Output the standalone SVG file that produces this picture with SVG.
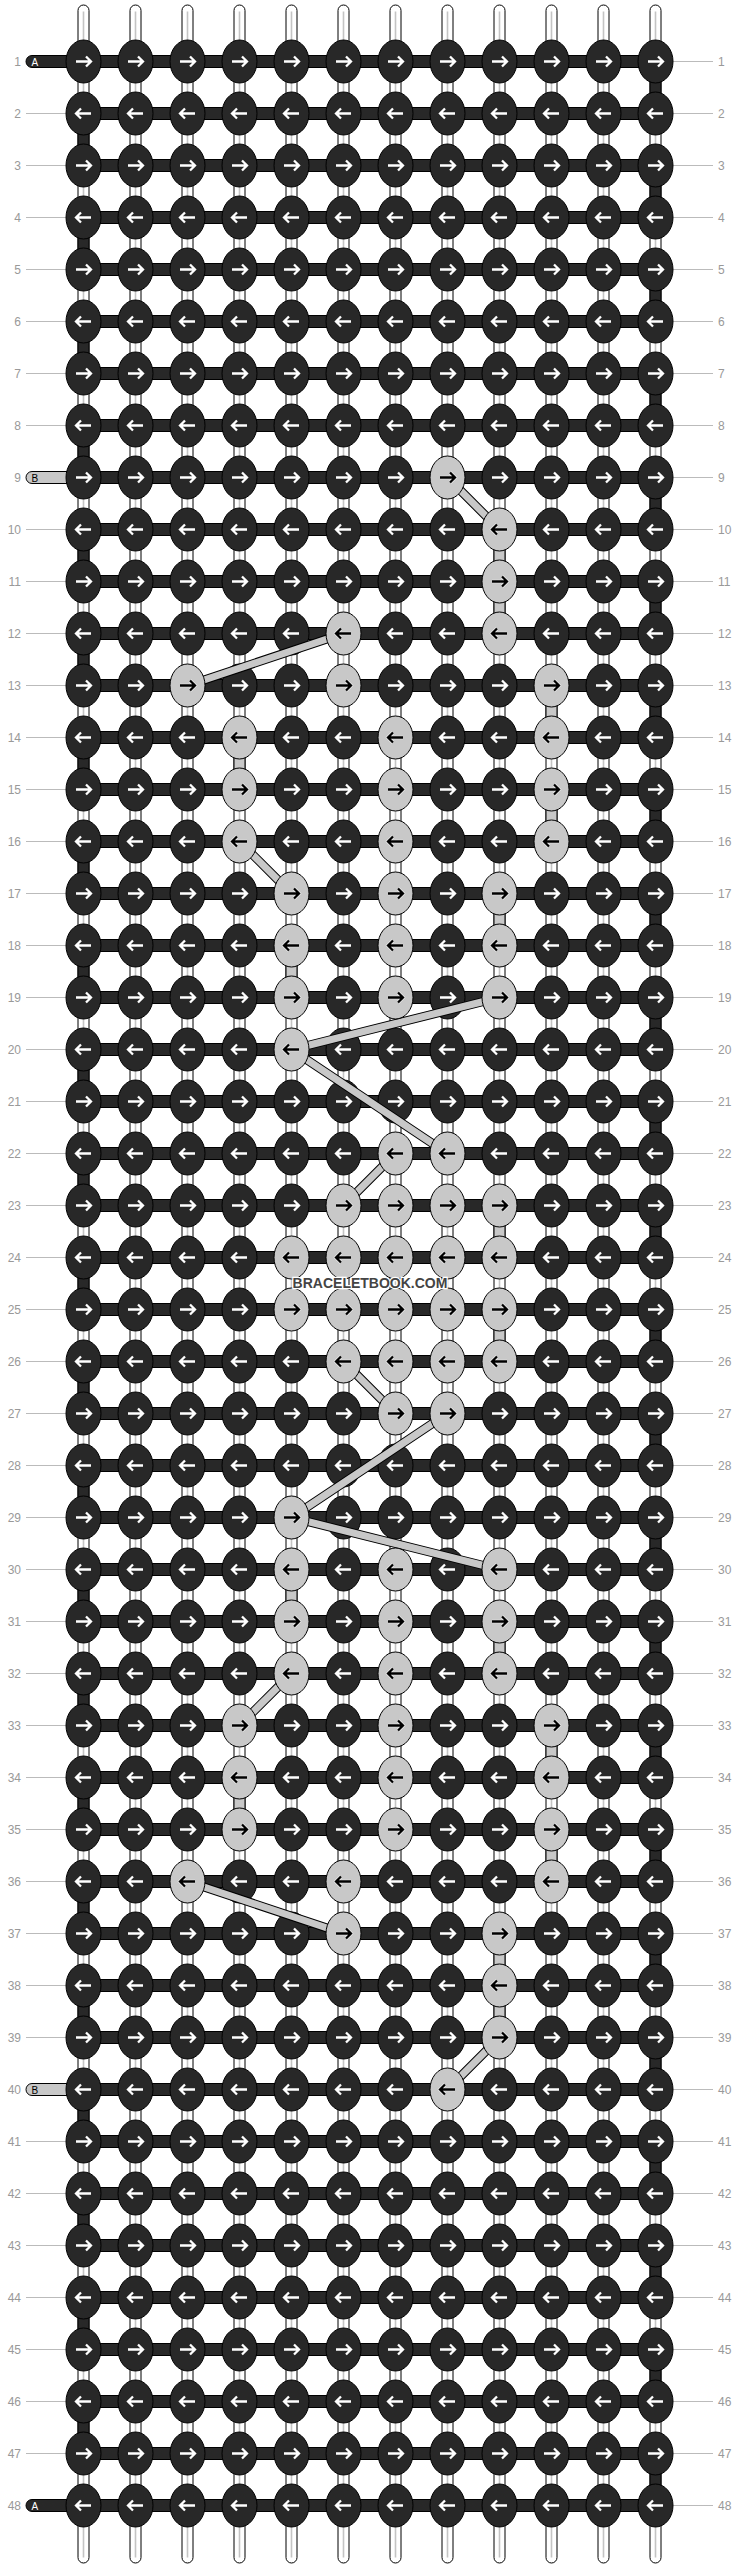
<svg xmlns="http://www.w3.org/2000/svg" xmlns:xlink="http://www.w3.org/1999/xlink" width="740" height="2568" viewBox="0 0 740 2568">
<style>
.tb{fill:#fff;stroke:#000;stroke-width:1}
.tl{stroke:#c4c4c4;stroke-width:1.6;fill:none}
.h{fill:#282828;stroke:#000;stroke-width:1}
.g{fill:#c8c8c8;stroke:#000;stroke-width:1}
.dk{stroke:#000;stroke-width:9;fill:none}
.dg{stroke:#c8c8c8;stroke-width:7;fill:none}
.ln{stroke:#bbb;stroke-width:1;fill:none}
.nl{font-family:"Liberation Sans",Arial,sans-serif;font-size:12px;fill:#999;text-anchor:end}
.nr{font-family:"Liberation Sans",Arial,sans-serif;font-size:12px;fill:#999}
.lab{font-family:"Liberation Sans",Arial,sans-serif;font-size:10px}
.wm{font-family:"Liberation Sans",Arial,sans-serif;font-size:14px;font-weight:bold;fill:#444;stroke:#fff;stroke-width:2.5;paint-order:stroke;text-anchor:middle}
.de{fill:#282828;stroke:#000;stroke-width:1}
.le{fill:#c8c8c8;stroke:#000;stroke-width:1}
.aw{stroke:#fff;stroke-width:2.3;fill:none}
.ah{stroke:#fff;stroke-width:3.6;fill:none;opacity:.7}
.ab{stroke:#000;stroke-width:2.3;fill:none}
</style>
<defs>
<g id="dR"><ellipse class="de" rx="17.5" ry="21.5"/><path class="aw" d="M-7.5 0H6.5M2.5-5 7.5 0 2.5 5"/></g>
<g id="dL"><ellipse class="de" rx="17.5" ry="21.5"/><path class="aw" d="M7.5 0H-6.5M-2.5-5-7.5 0-2.5 5"/></g>
<g id="lR"><ellipse class="le" rx="17.5" ry="21.5"/><path class="ah" d="M-7.5 0H6.5M2.5-5 7.5 0 2.5 5"/><path class="ab" d="M-7.5 0H6.5M2.5-5 7.5 0 2.5 5"/></g>
<g id="lL"><ellipse class="le" rx="17.5" ry="21.5"/><path class="ah" d="M7.5 0H-6.5M-2.5-5-7.5 0-2.5 5"/><path class="ab" d="M7.5 0H-6.5M-2.5-5-7.5 0-2.5 5"/></g>
</defs>
<rect width="740" height="2568" fill="#fff"/>
<g transform="translate(83.5,61.5)">
<g id="threads">
<g id="tubes">
<rect class="tb" x="-5.5" y="-56.5" width="11" height="2558" rx="5.5"/>
<rect class="tb" x="46.5" y="-56.5" width="11" height="2558" rx="5.5"/>
<rect class="tb" x="98.5" y="-56.5" width="11" height="2558" rx="5.5"/>
<rect class="tb" x="150.5" y="-56.5" width="11" height="2558" rx="5.5"/>
<rect class="tb" x="202.5" y="-56.5" width="11" height="2558" rx="5.5"/>
<rect class="tb" x="254.5" y="-56.5" width="11" height="2558" rx="5.5"/>
<rect class="tb" x="306.5" y="-56.5" width="11" height="2558" rx="5.5"/>
<rect class="tb" x="358.5" y="-56.5" width="11" height="2558" rx="5.5"/>
<rect class="tb" x="410.5" y="-56.5" width="11" height="2558" rx="5.5"/>
<rect class="tb" x="462.5" y="-56.5" width="11" height="2558" rx="5.5"/>
<rect class="tb" x="514.5" y="-56.5" width="11" height="2558" rx="5.5"/>
<rect class="tb" x="566.5" y="-56.5" width="11" height="2558" rx="5.5"/>
<path class="tl" d="M0-50V2496M52-50V2496M104-50V2496M156-50V2496M208-50V2496M260-50V2496M312-50V2496M364-50V2496M416-50V2496M468-50V2496M520-50V2496M572-50V2496"/>
</g>
<g id="bands">
<rect class="h" x="0" y="-6" width="572" height="12"/>
<rect class="h" x="0" y="46" width="572" height="12"/>
<rect class="h" x="0" y="98" width="572" height="12"/>
<rect class="h" x="0" y="150" width="572" height="12"/>
<rect class="h" x="0" y="202" width="572" height="12"/>
<rect class="h" x="0" y="254" width="572" height="12"/>
<rect class="h" x="0" y="306" width="572" height="12"/>
<rect class="h" x="0" y="358" width="572" height="12"/>
<rect class="h" x="0" y="410" width="572" height="12"/>
<rect class="h" x="0" y="462" width="572" height="12"/>
<rect class="h" x="0" y="514" width="572" height="12"/>
<rect class="h" x="0" y="566" width="572" height="12"/>
<rect class="h" x="0" y="618" width="572" height="12"/>
<rect class="h" x="0" y="670" width="572" height="12"/>
<rect class="h" x="0" y="722" width="572" height="12"/>
<rect class="h" x="0" y="774" width="572" height="12"/>
<rect class="h" x="0" y="826" width="572" height="12"/>
<rect class="h" x="0" y="878" width="572" height="12"/>
<rect class="h" x="0" y="930" width="572" height="12"/>
<rect class="h" x="0" y="982" width="572" height="12"/>
<rect class="h" x="0" y="1034" width="572" height="12"/>
<rect class="h" x="0" y="1086" width="572" height="12"/>
<rect class="h" x="0" y="1138" width="572" height="12"/>
<rect class="h" x="0" y="1190" width="572" height="12"/>
<rect class="h" x="0" y="1242" width="572" height="12"/>
<rect class="h" x="0" y="1294" width="572" height="12"/>
<rect class="h" x="0" y="1346" width="572" height="12"/>
<rect class="h" x="0" y="1398" width="572" height="12"/>
<rect class="h" x="0" y="1450" width="572" height="12"/>
<rect class="h" x="0" y="1502" width="572" height="12"/>
<rect class="h" x="0" y="1554" width="572" height="12"/>
<rect class="h" x="0" y="1606" width="572" height="12"/>
<rect class="h" x="0" y="1658" width="572" height="12"/>
<rect class="h" x="0" y="1710" width="572" height="12"/>
<rect class="h" x="0" y="1762" width="572" height="12"/>
<rect class="h" x="0" y="1814" width="572" height="12"/>
<rect class="h" x="0" y="1866" width="572" height="12"/>
<rect class="h" x="0" y="1918" width="572" height="12"/>
<rect class="h" x="0" y="1970" width="572" height="12"/>
<rect class="h" x="0" y="2022" width="572" height="12"/>
<rect class="h" x="0" y="2074" width="572" height="12"/>
<rect class="h" x="0" y="2126" width="572" height="12"/>
<rect class="h" x="0" y="2178" width="572" height="12"/>
<rect class="h" x="0" y="2230" width="572" height="12"/>
<rect class="h" x="0" y="2282" width="572" height="12"/>
<rect class="h" x="0" y="2334" width="572" height="12"/>
<rect class="h" x="0" y="2386" width="572" height="12"/>
<rect class="h" x="0" y="2438" width="572" height="12"/>
</g>
<g id="turns">
<rect class="h" x="566.5" y="15" width="11" height="22"/>
<rect class="h" x="566.5" y="119" width="11" height="22"/>
<rect class="h" x="566.5" y="223" width="11" height="22"/>
<rect class="h" x="566.5" y="327" width="11" height="22"/>
<rect class="h" x="566.5" y="431" width="11" height="22"/>
<rect class="h" x="566.5" y="535" width="11" height="22"/>
<rect class="h" x="566.5" y="639" width="11" height="22"/>
<rect class="h" x="566.5" y="743" width="11" height="22"/>
<rect class="h" x="566.5" y="847" width="11" height="22"/>
<rect class="h" x="566.5" y="951" width="11" height="22"/>
<rect class="h" x="566.5" y="1055" width="11" height="22"/>
<rect class="h" x="566.5" y="1159" width="11" height="22"/>
<rect class="h" x="566.5" y="1263" width="11" height="22"/>
<rect class="h" x="566.5" y="1367" width="11" height="22"/>
<rect class="h" x="566.5" y="1471" width="11" height="22"/>
<rect class="h" x="566.5" y="1575" width="11" height="22"/>
<rect class="h" x="566.5" y="1679" width="11" height="22"/>
<rect class="h" x="566.5" y="1783" width="11" height="22"/>
<rect class="h" x="566.5" y="1887" width="11" height="22"/>
<rect class="h" x="566.5" y="1991" width="11" height="22"/>
<rect class="h" x="566.5" y="2095" width="11" height="22"/>
<rect class="h" x="566.5" y="2199" width="11" height="22"/>
<rect class="h" x="566.5" y="2303" width="11" height="22"/>
<rect class="h" x="566.5" y="2407" width="11" height="22"/>
<rect class="h" x="-5.5" y="67" width="11" height="22"/>
<rect class="h" x="-5.5" y="171" width="11" height="22"/>
<rect class="h" x="-5.5" y="275" width="11" height="22"/>
<rect class="h" x="-5.5" y="379" width="11" height="22"/>
<rect class="h" x="-5.5" y="483" width="11" height="22"/>
<rect class="h" x="-5.5" y="587" width="11" height="22"/>
<rect class="h" x="-5.5" y="691" width="11" height="22"/>
<rect class="h" x="-5.5" y="795" width="11" height="22"/>
<rect class="h" x="-5.5" y="899" width="11" height="22"/>
<rect class="h" x="-5.5" y="1003" width="11" height="22"/>
<rect class="h" x="-5.5" y="1107" width="11" height="22"/>
<rect class="h" x="-5.5" y="1211" width="11" height="22"/>
<rect class="h" x="-5.5" y="1315" width="11" height="22"/>
<rect class="h" x="-5.5" y="1419" width="11" height="22"/>
<rect class="h" x="-5.5" y="1523" width="11" height="22"/>
<rect class="h" x="-5.5" y="1627" width="11" height="22"/>
<rect class="h" x="-5.5" y="1731" width="11" height="22"/>
<rect class="h" x="-5.5" y="1835" width="11" height="22"/>
<rect class="h" x="-5.5" y="1939" width="11" height="22"/>
<rect class="h" x="-5.5" y="2043" width="11" height="22"/>
<rect class="h" x="-5.5" y="2147" width="11" height="22"/>
<rect class="h" x="-5.5" y="2251" width="11" height="22"/>
<rect class="h" x="-5.5" y="2355" width="11" height="22"/>
</g>
<g id="bverticals">
<rect class="g" x="410.5" y="483" width="11" height="22"/>
<rect class="g" x="410.5" y="535" width="11" height="22"/>
<rect class="g" x="462.5" y="639" width="11" height="22"/>
<rect class="g" x="150.5" y="691" width="11" height="22"/>
<rect class="g" x="462.5" y="743" width="11" height="22"/>
<rect class="g" x="410.5" y="847" width="11" height="22"/>
<rect class="g" x="202.5" y="899" width="11" height="22"/>
<rect class="g" x="410.5" y="1159" width="11" height="22"/>
<rect class="g" x="410.5" y="1263" width="11" height="22"/>
<rect class="g" x="202.5" y="1523" width="11" height="22"/>
<rect class="g" x="410.5" y="1575" width="11" height="22"/>
<rect class="g" x="462.5" y="1679" width="11" height="22"/>
<rect class="g" x="150.5" y="1731" width="11" height="22"/>
<rect class="g" x="462.5" y="1783" width="11" height="22"/>
<rect class="g" x="410.5" y="1887" width="11" height="22"/>
<rect class="g" x="410.5" y="1939" width="11" height="22"/>
</g>
<g id="leads">
<rect class="h" x="-57.5" y="-6" width="50" height="12" rx="6"/>
<rect class="g" x="-57.5" y="410" width="50" height="12" rx="6"/>
<rect class="g" x="-57.5" y="2022" width="50" height="12" rx="6"/>
<rect class="h" x="-57.5" y="2438" width="50" height="12" rx="6"/>
<text class="lab" x="-52" y="4" fill="#fff">A</text>
<text class="lab" x="-52" y="420" fill="#000">B</text>
<text class="lab" x="-52" y="2032" fill="#000">B</text>
<text class="lab" x="-52" y="2448" fill="#fff">A</text>
</g>
</g>
<g transform="translate(0,0)"><path class="ln" d="M589.5 0h40"/><text class="nl" x="-62.5" y="4.3">1</text><text class="nr" x="634.5" y="4.3">1</text><g id="n1-1"><use href="#dR"/></g><g id="n1-2"><use href="#dR" x="52"/></g><g id="n1-3"><use href="#dR" x="104"/></g><g id="n1-4"><use href="#dR" x="156"/></g><g id="n1-5"><use href="#dR" x="208"/></g><g id="n1-6"><use href="#dR" x="260"/></g><g id="n1-7"><use href="#dR" x="312"/></g><g id="n1-8"><use href="#dR" x="364"/></g><g id="n1-9"><use href="#dR" x="416"/></g><g id="n1-10"><use href="#dR" x="468"/></g><g id="n1-11"><use href="#dR" x="520"/></g><g id="n1-12"><use href="#dR" x="572"/></g></g>
<g transform="translate(0,52)"><path class="ln" d="M-57.5 0h40M589.5 0h40"/><text class="nl" x="-62.5" y="4.3">2</text><text class="nr" x="634.5" y="4.3">2</text><g id="n2-1"><use href="#dL"/></g><g id="n2-2"><use href="#dL" x="52"/></g><g id="n2-3"><use href="#dL" x="104"/></g><g id="n2-4"><use href="#dL" x="156"/></g><g id="n2-5"><use href="#dL" x="208"/></g><g id="n2-6"><use href="#dL" x="260"/></g><g id="n2-7"><use href="#dL" x="312"/></g><g id="n2-8"><use href="#dL" x="364"/></g><g id="n2-9"><use href="#dL" x="416"/></g><g id="n2-10"><use href="#dL" x="468"/></g><g id="n2-11"><use href="#dL" x="520"/></g><g id="n2-12"><use href="#dL" x="572"/></g></g>
<g transform="translate(0,104)"><path class="ln" d="M-57.5 0h40M589.5 0h40"/><text class="nl" x="-62.5" y="4.3">3</text><text class="nr" x="634.5" y="4.3">3</text><g id="n3-1"><use href="#dR"/></g><g id="n3-2"><use href="#dR" x="52"/></g><g id="n3-3"><use href="#dR" x="104"/></g><g id="n3-4"><use href="#dR" x="156"/></g><g id="n3-5"><use href="#dR" x="208"/></g><g id="n3-6"><use href="#dR" x="260"/></g><g id="n3-7"><use href="#dR" x="312"/></g><g id="n3-8"><use href="#dR" x="364"/></g><g id="n3-9"><use href="#dR" x="416"/></g><g id="n3-10"><use href="#dR" x="468"/></g><g id="n3-11"><use href="#dR" x="520"/></g><g id="n3-12"><use href="#dR" x="572"/></g></g>
<g transform="translate(0,156)"><path class="ln" d="M-57.5 0h40M589.5 0h40"/><text class="nl" x="-62.5" y="4.3">4</text><text class="nr" x="634.5" y="4.3">4</text><g id="n4-1"><use href="#dL"/></g><g id="n4-2"><use href="#dL" x="52"/></g><g id="n4-3"><use href="#dL" x="104"/></g><g id="n4-4"><use href="#dL" x="156"/></g><g id="n4-5"><use href="#dL" x="208"/></g><g id="n4-6"><use href="#dL" x="260"/></g><g id="n4-7"><use href="#dL" x="312"/></g><g id="n4-8"><use href="#dL" x="364"/></g><g id="n4-9"><use href="#dL" x="416"/></g><g id="n4-10"><use href="#dL" x="468"/></g><g id="n4-11"><use href="#dL" x="520"/></g><g id="n4-12"><use href="#dL" x="572"/></g></g>
<g transform="translate(0,208)"><path class="ln" d="M-57.5 0h40M589.5 0h40"/><text class="nl" x="-62.5" y="4.3">5</text><text class="nr" x="634.5" y="4.3">5</text><g id="n5-1"><use href="#dR"/></g><g id="n5-2"><use href="#dR" x="52"/></g><g id="n5-3"><use href="#dR" x="104"/></g><g id="n5-4"><use href="#dR" x="156"/></g><g id="n5-5"><use href="#dR" x="208"/></g><g id="n5-6"><use href="#dR" x="260"/></g><g id="n5-7"><use href="#dR" x="312"/></g><g id="n5-8"><use href="#dR" x="364"/></g><g id="n5-9"><use href="#dR" x="416"/></g><g id="n5-10"><use href="#dR" x="468"/></g><g id="n5-11"><use href="#dR" x="520"/></g><g id="n5-12"><use href="#dR" x="572"/></g></g>
<g transform="translate(0,260)"><path class="ln" d="M-57.5 0h40M589.5 0h40"/><text class="nl" x="-62.5" y="4.3">6</text><text class="nr" x="634.5" y="4.3">6</text><g id="n6-1"><use href="#dL"/></g><g id="n6-2"><use href="#dL" x="52"/></g><g id="n6-3"><use href="#dL" x="104"/></g><g id="n6-4"><use href="#dL" x="156"/></g><g id="n6-5"><use href="#dL" x="208"/></g><g id="n6-6"><use href="#dL" x="260"/></g><g id="n6-7"><use href="#dL" x="312"/></g><g id="n6-8"><use href="#dL" x="364"/></g><g id="n6-9"><use href="#dL" x="416"/></g><g id="n6-10"><use href="#dL" x="468"/></g><g id="n6-11"><use href="#dL" x="520"/></g><g id="n6-12"><use href="#dL" x="572"/></g></g>
<g transform="translate(0,312)"><path class="ln" d="M-57.5 0h40M589.5 0h40"/><text class="nl" x="-62.5" y="4.3">7</text><text class="nr" x="634.5" y="4.3">7</text><g id="n7-1"><use href="#dR"/></g><g id="n7-2"><use href="#dR" x="52"/></g><g id="n7-3"><use href="#dR" x="104"/></g><g id="n7-4"><use href="#dR" x="156"/></g><g id="n7-5"><use href="#dR" x="208"/></g><g id="n7-6"><use href="#dR" x="260"/></g><g id="n7-7"><use href="#dR" x="312"/></g><g id="n7-8"><use href="#dR" x="364"/></g><g id="n7-9"><use href="#dR" x="416"/></g><g id="n7-10"><use href="#dR" x="468"/></g><g id="n7-11"><use href="#dR" x="520"/></g><g id="n7-12"><use href="#dR" x="572"/></g></g>
<g transform="translate(0,364)"><path class="ln" d="M-57.5 0h40M589.5 0h40"/><text class="nl" x="-62.5" y="4.3">8</text><text class="nr" x="634.5" y="4.3">8</text><g id="n8-1"><use href="#dL"/></g><g id="n8-2"><use href="#dL" x="52"/></g><g id="n8-3"><use href="#dL" x="104"/></g><g id="n8-4"><use href="#dL" x="156"/></g><g id="n8-5"><use href="#dL" x="208"/></g><g id="n8-6"><use href="#dL" x="260"/></g><g id="n8-7"><use href="#dL" x="312"/></g><g id="n8-8"><use href="#dL" x="364"/></g><g id="n8-9"><use href="#dL" x="416"/></g><g id="n8-10"><use href="#dL" x="468"/></g><g id="n8-11"><use href="#dL" x="520"/></g><g id="n8-12"><use href="#dL" x="572"/></g></g>
<g transform="translate(0,416)"><path class="ln" d="M589.5 0h40"/><text class="nl" x="-62.5" y="4.3">9</text><text class="nr" x="634.5" y="4.3">9</text><g id="n9-1"><use href="#dR"/></g><g id="n9-2"><use href="#dR" x="52"/></g><g id="n9-3"><use href="#dR" x="104"/></g><g id="n9-4"><use href="#dR" x="156"/></g><g id="n9-5"><use href="#dR" x="208"/></g><g id="n9-6"><use href="#dR" x="260"/></g><g id="n9-7"><use href="#dR" x="312"/></g><g id="n9-9"><use href="#dR" x="416"/></g><g id="n9-10"><use href="#dR" x="468"/></g><g id="n9-11"><use href="#dR" x="520"/></g><g id="n9-12"><use href="#dR" x="572"/></g></g>
<g transform="translate(0,468)"><path class="ln" d="M-57.5 0h40M589.5 0h40"/><text class="nl" x="-62.5" y="4.3">10</text><text class="nr" x="634.5" y="4.3">10</text><g id="n10-1"><use href="#dL"/></g><g id="n10-2"><use href="#dL" x="52"/></g><g id="n10-3"><use href="#dL" x="104"/></g><g id="n10-4"><use href="#dL" x="156"/></g><g id="n10-5"><use href="#dL" x="208"/></g><g id="n10-6"><use href="#dL" x="260"/></g><g id="n10-7"><use href="#dL" x="312"/></g><g id="n10-8"><use href="#dL" x="364"/></g><g id="n10-10"><use href="#dL" x="468"/></g><g id="n10-11"><use href="#dL" x="520"/></g><g id="n10-12"><use href="#dL" x="572"/></g></g>
<g transform="translate(0,520)"><path class="ln" d="M-57.5 0h40M589.5 0h40"/><text class="nl" x="-62.5" y="4.3">11</text><text class="nr" x="634.5" y="4.3">11</text><g id="n11-1"><use href="#dR"/></g><g id="n11-2"><use href="#dR" x="52"/></g><g id="n11-3"><use href="#dR" x="104"/></g><g id="n11-4"><use href="#dR" x="156"/></g><g id="n11-5"><use href="#dR" x="208"/></g><g id="n11-6"><use href="#dR" x="260"/></g><g id="n11-7"><use href="#dR" x="312"/></g><g id="n11-8"><use href="#dR" x="364"/></g><g id="n11-10"><use href="#dR" x="468"/></g><g id="n11-11"><use href="#dR" x="520"/></g><g id="n11-12"><use href="#dR" x="572"/></g></g>
<g transform="translate(0,572)"><path class="ln" d="M-57.5 0h40M589.5 0h40"/><text class="nl" x="-62.5" y="4.3">12</text><text class="nr" x="634.5" y="4.3">12</text><g id="n12-1"><use href="#dL"/></g><g id="n12-2"><use href="#dL" x="52"/></g><g id="n12-3"><use href="#dL" x="104"/></g><g id="n12-4"><use href="#dL" x="156"/></g><g id="n12-5"><use href="#dL" x="208"/></g><g id="n12-7"><use href="#dL" x="312"/></g><g id="n12-8"><use href="#dL" x="364"/></g><g id="n12-10"><use href="#dL" x="468"/></g><g id="n12-11"><use href="#dL" x="520"/></g><g id="n12-12"><use href="#dL" x="572"/></g></g>
<g transform="translate(0,624)"><path class="ln" d="M-57.5 0h40M589.5 0h40"/><text class="nl" x="-62.5" y="4.3">13</text><text class="nr" x="634.5" y="4.3">13</text><g id="n13-1"><use href="#dR"/></g><g id="n13-2"><use href="#dR" x="52"/></g><g id="n13-4"><use href="#dR" x="156"/></g><g id="n13-5"><use href="#dR" x="208"/></g><g id="n13-7"><use href="#dR" x="312"/></g><g id="n13-8"><use href="#dR" x="364"/></g><g id="n13-9"><use href="#dR" x="416"/></g><g id="n13-11"><use href="#dR" x="520"/></g><g id="n13-12"><use href="#dR" x="572"/></g></g>
<g transform="translate(0,676)"><path class="ln" d="M-57.5 0h40M589.5 0h40"/><text class="nl" x="-62.5" y="4.3">14</text><text class="nr" x="634.5" y="4.3">14</text><g id="n14-1"><use href="#dL"/></g><g id="n14-2"><use href="#dL" x="52"/></g><g id="n14-3"><use href="#dL" x="104"/></g><g id="n14-5"><use href="#dL" x="208"/></g><g id="n14-6"><use href="#dL" x="260"/></g><g id="n14-8"><use href="#dL" x="364"/></g><g id="n14-9"><use href="#dL" x="416"/></g><g id="n14-11"><use href="#dL" x="520"/></g><g id="n14-12"><use href="#dL" x="572"/></g></g>
<g transform="translate(0,728)"><path class="ln" d="M-57.5 0h40M589.5 0h40"/><text class="nl" x="-62.5" y="4.3">15</text><text class="nr" x="634.5" y="4.3">15</text><g id="n15-1"><use href="#dR"/></g><g id="n15-2"><use href="#dR" x="52"/></g><g id="n15-3"><use href="#dR" x="104"/></g><g id="n15-5"><use href="#dR" x="208"/></g><g id="n15-6"><use href="#dR" x="260"/></g><g id="n15-8"><use href="#dR" x="364"/></g><g id="n15-9"><use href="#dR" x="416"/></g><g id="n15-11"><use href="#dR" x="520"/></g><g id="n15-12"><use href="#dR" x="572"/></g></g>
<g transform="translate(0,780)"><path class="ln" d="M-57.5 0h40M589.5 0h40"/><text class="nl" x="-62.5" y="4.3">16</text><text class="nr" x="634.5" y="4.3">16</text><g id="n16-1"><use href="#dL"/></g><g id="n16-2"><use href="#dL" x="52"/></g><g id="n16-3"><use href="#dL" x="104"/></g><g id="n16-5"><use href="#dL" x="208"/></g><g id="n16-6"><use href="#dL" x="260"/></g><g id="n16-8"><use href="#dL" x="364"/></g><g id="n16-9"><use href="#dL" x="416"/></g><g id="n16-11"><use href="#dL" x="520"/></g><g id="n16-12"><use href="#dL" x="572"/></g></g>
<g transform="translate(0,832)"><path class="ln" d="M-57.5 0h40M589.5 0h40"/><text class="nl" x="-62.5" y="4.3">17</text><text class="nr" x="634.5" y="4.3">17</text><g id="n17-1"><use href="#dR"/></g><g id="n17-2"><use href="#dR" x="52"/></g><g id="n17-3"><use href="#dR" x="104"/></g><g id="n17-4"><use href="#dR" x="156"/></g><g id="n17-6"><use href="#dR" x="260"/></g><g id="n17-8"><use href="#dR" x="364"/></g><g id="n17-10"><use href="#dR" x="468"/></g><g id="n17-11"><use href="#dR" x="520"/></g><g id="n17-12"><use href="#dR" x="572"/></g></g>
<g transform="translate(0,884)"><path class="ln" d="M-57.5 0h40M589.5 0h40"/><text class="nl" x="-62.5" y="4.3">18</text><text class="nr" x="634.5" y="4.3">18</text><g id="n18-1"><use href="#dL"/></g><g id="n18-2"><use href="#dL" x="52"/></g><g id="n18-3"><use href="#dL" x="104"/></g><g id="n18-4"><use href="#dL" x="156"/></g><g id="n18-6"><use href="#dL" x="260"/></g><g id="n18-8"><use href="#dL" x="364"/></g><g id="n18-10"><use href="#dL" x="468"/></g><g id="n18-11"><use href="#dL" x="520"/></g><g id="n18-12"><use href="#dL" x="572"/></g></g>
<g transform="translate(0,936)"><path class="ln" d="M-57.5 0h40M589.5 0h40"/><text class="nl" x="-62.5" y="4.3">19</text><text class="nr" x="634.5" y="4.3">19</text><g id="n19-1"><use href="#dR"/></g><g id="n19-2"><use href="#dR" x="52"/></g><g id="n19-3"><use href="#dR" x="104"/></g><g id="n19-4"><use href="#dR" x="156"/></g><g id="n19-6"><use href="#dR" x="260"/></g><g id="n19-8"><use href="#dR" x="364"/></g><g id="n19-10"><use href="#dR" x="468"/></g><g id="n19-11"><use href="#dR" x="520"/></g><g id="n19-12"><use href="#dR" x="572"/></g></g>
<g transform="translate(0,988)"><path class="ln" d="M-57.5 0h40M589.5 0h40"/><text class="nl" x="-62.5" y="4.3">20</text><text class="nr" x="634.5" y="4.3">20</text><g id="n20-1"><use href="#dL"/></g><g id="n20-2"><use href="#dL" x="52"/></g><g id="n20-3"><use href="#dL" x="104"/></g><g id="n20-4"><use href="#dL" x="156"/></g><g id="n20-6"><use href="#dL" x="260"/></g><g id="n20-7"><use href="#dL" x="312"/></g><g id="n20-8"><use href="#dL" x="364"/></g><g id="n20-9"><use href="#dL" x="416"/></g><g id="n20-10"><use href="#dL" x="468"/></g><g id="n20-11"><use href="#dL" x="520"/></g><g id="n20-12"><use href="#dL" x="572"/></g></g>
<g transform="translate(0,1040)"><path class="ln" d="M-57.5 0h40M589.5 0h40"/><text class="nl" x="-62.5" y="4.3">21</text><text class="nr" x="634.5" y="4.3">21</text><g id="n21-1"><use href="#dR"/></g><g id="n21-2"><use href="#dR" x="52"/></g><g id="n21-3"><use href="#dR" x="104"/></g><g id="n21-4"><use href="#dR" x="156"/></g><g id="n21-5"><use href="#dR" x="208"/></g><g id="n21-6"><use href="#dR" x="260"/></g><g id="n21-7"><use href="#dR" x="312"/></g><g id="n21-8"><use href="#dR" x="364"/></g><g id="n21-9"><use href="#dR" x="416"/></g><g id="n21-10"><use href="#dR" x="468"/></g><g id="n21-11"><use href="#dR" x="520"/></g><g id="n21-12"><use href="#dR" x="572"/></g></g>
<g transform="translate(0,1092)"><path class="ln" d="M-57.5 0h40M589.5 0h40"/><text class="nl" x="-62.5" y="4.3">22</text><text class="nr" x="634.5" y="4.3">22</text><g id="n22-1"><use href="#dL"/></g><g id="n22-2"><use href="#dL" x="52"/></g><g id="n22-3"><use href="#dL" x="104"/></g><g id="n22-4"><use href="#dL" x="156"/></g><g id="n22-5"><use href="#dL" x="208"/></g><g id="n22-6"><use href="#dL" x="260"/></g><g id="n22-9"><use href="#dL" x="416"/></g><g id="n22-10"><use href="#dL" x="468"/></g><g id="n22-11"><use href="#dL" x="520"/></g><g id="n22-12"><use href="#dL" x="572"/></g></g>
<g transform="translate(0,1144)"><path class="ln" d="M-57.5 0h40M589.5 0h40"/><text class="nl" x="-62.5" y="4.3">23</text><text class="nr" x="634.5" y="4.3">23</text><g id="n23-1"><use href="#dR"/></g><g id="n23-2"><use href="#dR" x="52"/></g><g id="n23-3"><use href="#dR" x="104"/></g><g id="n23-4"><use href="#dR" x="156"/></g><g id="n23-5"><use href="#dR" x="208"/></g><g id="n23-10"><use href="#dR" x="468"/></g><g id="n23-11"><use href="#dR" x="520"/></g><g id="n23-12"><use href="#dR" x="572"/></g></g>
<g transform="translate(0,1196)"><path class="ln" d="M-57.5 0h40M589.5 0h40"/><text class="nl" x="-62.5" y="4.3">24</text><text class="nr" x="634.5" y="4.3">24</text><g id="n24-1"><use href="#dL"/></g><g id="n24-2"><use href="#dL" x="52"/></g><g id="n24-3"><use href="#dL" x="104"/></g><g id="n24-4"><use href="#dL" x="156"/></g><g id="n24-10"><use href="#dL" x="468"/></g><g id="n24-11"><use href="#dL" x="520"/></g><g id="n24-12"><use href="#dL" x="572"/></g></g>
<g transform="translate(0,1248)"><path class="ln" d="M-57.5 0h40M589.5 0h40"/><text class="nl" x="-62.5" y="4.3">25</text><text class="nr" x="634.5" y="4.3">25</text><g id="n25-1"><use href="#dR"/></g><g id="n25-2"><use href="#dR" x="52"/></g><g id="n25-3"><use href="#dR" x="104"/></g><g id="n25-4"><use href="#dR" x="156"/></g><g id="n25-10"><use href="#dR" x="468"/></g><g id="n25-11"><use href="#dR" x="520"/></g><g id="n25-12"><use href="#dR" x="572"/></g></g>
<g transform="translate(0,1300)"><path class="ln" d="M-57.5 0h40M589.5 0h40"/><text class="nl" x="-62.5" y="4.3">26</text><text class="nr" x="634.5" y="4.3">26</text><g id="n26-1"><use href="#dL"/></g><g id="n26-2"><use href="#dL" x="52"/></g><g id="n26-3"><use href="#dL" x="104"/></g><g id="n26-4"><use href="#dL" x="156"/></g><g id="n26-5"><use href="#dL" x="208"/></g><g id="n26-10"><use href="#dL" x="468"/></g><g id="n26-11"><use href="#dL" x="520"/></g><g id="n26-12"><use href="#dL" x="572"/></g></g>
<g transform="translate(0,1352)"><path class="ln" d="M-57.5 0h40M589.5 0h40"/><text class="nl" x="-62.5" y="4.3">27</text><text class="nr" x="634.5" y="4.3">27</text><g id="n27-1"><use href="#dR"/></g><g id="n27-2"><use href="#dR" x="52"/></g><g id="n27-3"><use href="#dR" x="104"/></g><g id="n27-4"><use href="#dR" x="156"/></g><g id="n27-5"><use href="#dR" x="208"/></g><g id="n27-6"><use href="#dR" x="260"/></g><g id="n27-9"><use href="#dR" x="416"/></g><g id="n27-10"><use href="#dR" x="468"/></g><g id="n27-11"><use href="#dR" x="520"/></g><g id="n27-12"><use href="#dR" x="572"/></g></g>
<g transform="translate(0,1404)"><path class="ln" d="M-57.5 0h40M589.5 0h40"/><text class="nl" x="-62.5" y="4.3">28</text><text class="nr" x="634.5" y="4.3">28</text><g id="n28-1"><use href="#dL"/></g><g id="n28-2"><use href="#dL" x="52"/></g><g id="n28-3"><use href="#dL" x="104"/></g><g id="n28-4"><use href="#dL" x="156"/></g><g id="n28-5"><use href="#dL" x="208"/></g><g id="n28-6"><use href="#dL" x="260"/></g><g id="n28-7"><use href="#dL" x="312"/></g><g id="n28-8"><use href="#dL" x="364"/></g><g id="n28-9"><use href="#dL" x="416"/></g><g id="n28-10"><use href="#dL" x="468"/></g><g id="n28-11"><use href="#dL" x="520"/></g><g id="n28-12"><use href="#dL" x="572"/></g></g>
<g transform="translate(0,1456)"><path class="ln" d="M-57.5 0h40M589.5 0h40"/><text class="nl" x="-62.5" y="4.3">29</text><text class="nr" x="634.5" y="4.3">29</text><g id="n29-1"><use href="#dR"/></g><g id="n29-2"><use href="#dR" x="52"/></g><g id="n29-3"><use href="#dR" x="104"/></g><g id="n29-4"><use href="#dR" x="156"/></g><g id="n29-6"><use href="#dR" x="260"/></g><g id="n29-7"><use href="#dR" x="312"/></g><g id="n29-8"><use href="#dR" x="364"/></g><g id="n29-9"><use href="#dR" x="416"/></g><g id="n29-10"><use href="#dR" x="468"/></g><g id="n29-11"><use href="#dR" x="520"/></g><g id="n29-12"><use href="#dR" x="572"/></g></g>
<g transform="translate(0,1508)"><path class="ln" d="M-57.5 0h40M589.5 0h40"/><text class="nl" x="-62.5" y="4.3">30</text><text class="nr" x="634.5" y="4.3">30</text><g id="n30-1"><use href="#dL"/></g><g id="n30-2"><use href="#dL" x="52"/></g><g id="n30-3"><use href="#dL" x="104"/></g><g id="n30-4"><use href="#dL" x="156"/></g><g id="n30-6"><use href="#dL" x="260"/></g><g id="n30-8"><use href="#dL" x="364"/></g><g id="n30-10"><use href="#dL" x="468"/></g><g id="n30-11"><use href="#dL" x="520"/></g><g id="n30-12"><use href="#dL" x="572"/></g></g>
<g transform="translate(0,1560)"><path class="ln" d="M-57.5 0h40M589.5 0h40"/><text class="nl" x="-62.5" y="4.3">31</text><text class="nr" x="634.5" y="4.3">31</text><g id="n31-1"><use href="#dR"/></g><g id="n31-2"><use href="#dR" x="52"/></g><g id="n31-3"><use href="#dR" x="104"/></g><g id="n31-4"><use href="#dR" x="156"/></g><g id="n31-6"><use href="#dR" x="260"/></g><g id="n31-8"><use href="#dR" x="364"/></g><g id="n31-10"><use href="#dR" x="468"/></g><g id="n31-11"><use href="#dR" x="520"/></g><g id="n31-12"><use href="#dR" x="572"/></g></g>
<g transform="translate(0,1612)"><path class="ln" d="M-57.5 0h40M589.5 0h40"/><text class="nl" x="-62.5" y="4.3">32</text><text class="nr" x="634.5" y="4.3">32</text><g id="n32-1"><use href="#dL"/></g><g id="n32-2"><use href="#dL" x="52"/></g><g id="n32-3"><use href="#dL" x="104"/></g><g id="n32-4"><use href="#dL" x="156"/></g><g id="n32-6"><use href="#dL" x="260"/></g><g id="n32-8"><use href="#dL" x="364"/></g><g id="n32-10"><use href="#dL" x="468"/></g><g id="n32-11"><use href="#dL" x="520"/></g><g id="n32-12"><use href="#dL" x="572"/></g></g>
<g transform="translate(0,1664)"><path class="ln" d="M-57.5 0h40M589.5 0h40"/><text class="nl" x="-62.5" y="4.3">33</text><text class="nr" x="634.5" y="4.3">33</text><g id="n33-1"><use href="#dR"/></g><g id="n33-2"><use href="#dR" x="52"/></g><g id="n33-3"><use href="#dR" x="104"/></g><g id="n33-5"><use href="#dR" x="208"/></g><g id="n33-6"><use href="#dR" x="260"/></g><g id="n33-8"><use href="#dR" x="364"/></g><g id="n33-9"><use href="#dR" x="416"/></g><g id="n33-11"><use href="#dR" x="520"/></g><g id="n33-12"><use href="#dR" x="572"/></g></g>
<g transform="translate(0,1716)"><path class="ln" d="M-57.5 0h40M589.5 0h40"/><text class="nl" x="-62.5" y="4.3">34</text><text class="nr" x="634.5" y="4.3">34</text><g id="n34-1"><use href="#dL"/></g><g id="n34-2"><use href="#dL" x="52"/></g><g id="n34-3"><use href="#dL" x="104"/></g><g id="n34-5"><use href="#dL" x="208"/></g><g id="n34-6"><use href="#dL" x="260"/></g><g id="n34-8"><use href="#dL" x="364"/></g><g id="n34-9"><use href="#dL" x="416"/></g><g id="n34-11"><use href="#dL" x="520"/></g><g id="n34-12"><use href="#dL" x="572"/></g></g>
<g transform="translate(0,1768)"><path class="ln" d="M-57.5 0h40M589.5 0h40"/><text class="nl" x="-62.5" y="4.3">35</text><text class="nr" x="634.5" y="4.3">35</text><g id="n35-1"><use href="#dR"/></g><g id="n35-2"><use href="#dR" x="52"/></g><g id="n35-3"><use href="#dR" x="104"/></g><g id="n35-5"><use href="#dR" x="208"/></g><g id="n35-6"><use href="#dR" x="260"/></g><g id="n35-8"><use href="#dR" x="364"/></g><g id="n35-9"><use href="#dR" x="416"/></g><g id="n35-11"><use href="#dR" x="520"/></g><g id="n35-12"><use href="#dR" x="572"/></g></g>
<g transform="translate(0,1820)"><path class="ln" d="M-57.5 0h40M589.5 0h40"/><text class="nl" x="-62.5" y="4.3">36</text><text class="nr" x="634.5" y="4.3">36</text><g id="n36-1"><use href="#dL"/></g><g id="n36-2"><use href="#dL" x="52"/></g><g id="n36-4"><use href="#dL" x="156"/></g><g id="n36-5"><use href="#dL" x="208"/></g><g id="n36-7"><use href="#dL" x="312"/></g><g id="n36-8"><use href="#dL" x="364"/></g><g id="n36-9"><use href="#dL" x="416"/></g><g id="n36-11"><use href="#dL" x="520"/></g><g id="n36-12"><use href="#dL" x="572"/></g></g>
<g transform="translate(0,1872)"><path class="ln" d="M-57.5 0h40M589.5 0h40"/><text class="nl" x="-62.5" y="4.3">37</text><text class="nr" x="634.5" y="4.3">37</text><g id="n37-1"><use href="#dR"/></g><g id="n37-2"><use href="#dR" x="52"/></g><g id="n37-3"><use href="#dR" x="104"/></g><g id="n37-4"><use href="#dR" x="156"/></g><g id="n37-5"><use href="#dR" x="208"/></g><g id="n37-7"><use href="#dR" x="312"/></g><g id="n37-8"><use href="#dR" x="364"/></g><g id="n37-10"><use href="#dR" x="468"/></g><g id="n37-11"><use href="#dR" x="520"/></g><g id="n37-12"><use href="#dR" x="572"/></g></g>
<g transform="translate(0,1924)"><path class="ln" d="M-57.5 0h40M589.5 0h40"/><text class="nl" x="-62.5" y="4.3">38</text><text class="nr" x="634.5" y="4.3">38</text><g id="n38-1"><use href="#dL"/></g><g id="n38-2"><use href="#dL" x="52"/></g><g id="n38-3"><use href="#dL" x="104"/></g><g id="n38-4"><use href="#dL" x="156"/></g><g id="n38-5"><use href="#dL" x="208"/></g><g id="n38-6"><use href="#dL" x="260"/></g><g id="n38-7"><use href="#dL" x="312"/></g><g id="n38-8"><use href="#dL" x="364"/></g><g id="n38-10"><use href="#dL" x="468"/></g><g id="n38-11"><use href="#dL" x="520"/></g><g id="n38-12"><use href="#dL" x="572"/></g></g>
<g transform="translate(0,1976)"><path class="ln" d="M-57.5 0h40M589.5 0h40"/><text class="nl" x="-62.5" y="4.3">39</text><text class="nr" x="634.5" y="4.3">39</text><g id="n39-1"><use href="#dR"/></g><g id="n39-2"><use href="#dR" x="52"/></g><g id="n39-3"><use href="#dR" x="104"/></g><g id="n39-4"><use href="#dR" x="156"/></g><g id="n39-5"><use href="#dR" x="208"/></g><g id="n39-6"><use href="#dR" x="260"/></g><g id="n39-7"><use href="#dR" x="312"/></g><g id="n39-8"><use href="#dR" x="364"/></g><g id="n39-10"><use href="#dR" x="468"/></g><g id="n39-11"><use href="#dR" x="520"/></g><g id="n39-12"><use href="#dR" x="572"/></g></g>
<g transform="translate(0,2028)"><path class="ln" d="M589.5 0h40"/><text class="nl" x="-62.5" y="4.3">40</text><text class="nr" x="634.5" y="4.3">40</text><g id="n40-1"><use href="#dL"/></g><g id="n40-2"><use href="#dL" x="52"/></g><g id="n40-3"><use href="#dL" x="104"/></g><g id="n40-4"><use href="#dL" x="156"/></g><g id="n40-5"><use href="#dL" x="208"/></g><g id="n40-6"><use href="#dL" x="260"/></g><g id="n40-7"><use href="#dL" x="312"/></g><g id="n40-9"><use href="#dL" x="416"/></g><g id="n40-10"><use href="#dL" x="468"/></g><g id="n40-11"><use href="#dL" x="520"/></g><g id="n40-12"><use href="#dL" x="572"/></g></g>
<g transform="translate(0,2080)"><path class="ln" d="M-57.5 0h40M589.5 0h40"/><text class="nl" x="-62.5" y="4.3">41</text><text class="nr" x="634.5" y="4.3">41</text><g id="n41-1"><use href="#dR"/></g><g id="n41-2"><use href="#dR" x="52"/></g><g id="n41-3"><use href="#dR" x="104"/></g><g id="n41-4"><use href="#dR" x="156"/></g><g id="n41-5"><use href="#dR" x="208"/></g><g id="n41-6"><use href="#dR" x="260"/></g><g id="n41-7"><use href="#dR" x="312"/></g><g id="n41-8"><use href="#dR" x="364"/></g><g id="n41-9"><use href="#dR" x="416"/></g><g id="n41-10"><use href="#dR" x="468"/></g><g id="n41-11"><use href="#dR" x="520"/></g><g id="n41-12"><use href="#dR" x="572"/></g></g>
<g transform="translate(0,2132)"><path class="ln" d="M-57.5 0h40M589.5 0h40"/><text class="nl" x="-62.5" y="4.3">42</text><text class="nr" x="634.5" y="4.3">42</text><g id="n42-1"><use href="#dL"/></g><g id="n42-2"><use href="#dL" x="52"/></g><g id="n42-3"><use href="#dL" x="104"/></g><g id="n42-4"><use href="#dL" x="156"/></g><g id="n42-5"><use href="#dL" x="208"/></g><g id="n42-6"><use href="#dL" x="260"/></g><g id="n42-7"><use href="#dL" x="312"/></g><g id="n42-8"><use href="#dL" x="364"/></g><g id="n42-9"><use href="#dL" x="416"/></g><g id="n42-10"><use href="#dL" x="468"/></g><g id="n42-11"><use href="#dL" x="520"/></g><g id="n42-12"><use href="#dL" x="572"/></g></g>
<g transform="translate(0,2184)"><path class="ln" d="M-57.5 0h40M589.5 0h40"/><text class="nl" x="-62.5" y="4.3">43</text><text class="nr" x="634.5" y="4.3">43</text><g id="n43-1"><use href="#dR"/></g><g id="n43-2"><use href="#dR" x="52"/></g><g id="n43-3"><use href="#dR" x="104"/></g><g id="n43-4"><use href="#dR" x="156"/></g><g id="n43-5"><use href="#dR" x="208"/></g><g id="n43-6"><use href="#dR" x="260"/></g><g id="n43-7"><use href="#dR" x="312"/></g><g id="n43-8"><use href="#dR" x="364"/></g><g id="n43-9"><use href="#dR" x="416"/></g><g id="n43-10"><use href="#dR" x="468"/></g><g id="n43-11"><use href="#dR" x="520"/></g><g id="n43-12"><use href="#dR" x="572"/></g></g>
<g transform="translate(0,2236)"><path class="ln" d="M-57.5 0h40M589.5 0h40"/><text class="nl" x="-62.5" y="4.3">44</text><text class="nr" x="634.5" y="4.3">44</text><g id="n44-1"><use href="#dL"/></g><g id="n44-2"><use href="#dL" x="52"/></g><g id="n44-3"><use href="#dL" x="104"/></g><g id="n44-4"><use href="#dL" x="156"/></g><g id="n44-5"><use href="#dL" x="208"/></g><g id="n44-6"><use href="#dL" x="260"/></g><g id="n44-7"><use href="#dL" x="312"/></g><g id="n44-8"><use href="#dL" x="364"/></g><g id="n44-9"><use href="#dL" x="416"/></g><g id="n44-10"><use href="#dL" x="468"/></g><g id="n44-11"><use href="#dL" x="520"/></g><g id="n44-12"><use href="#dL" x="572"/></g></g>
<g transform="translate(0,2288)"><path class="ln" d="M-57.5 0h40M589.5 0h40"/><text class="nl" x="-62.5" y="4.3">45</text><text class="nr" x="634.5" y="4.3">45</text><g id="n45-1"><use href="#dR"/></g><g id="n45-2"><use href="#dR" x="52"/></g><g id="n45-3"><use href="#dR" x="104"/></g><g id="n45-4"><use href="#dR" x="156"/></g><g id="n45-5"><use href="#dR" x="208"/></g><g id="n45-6"><use href="#dR" x="260"/></g><g id="n45-7"><use href="#dR" x="312"/></g><g id="n45-8"><use href="#dR" x="364"/></g><g id="n45-9"><use href="#dR" x="416"/></g><g id="n45-10"><use href="#dR" x="468"/></g><g id="n45-11"><use href="#dR" x="520"/></g><g id="n45-12"><use href="#dR" x="572"/></g></g>
<g transform="translate(0,2340)"><path class="ln" d="M-57.5 0h40M589.5 0h40"/><text class="nl" x="-62.5" y="4.3">46</text><text class="nr" x="634.5" y="4.3">46</text><g id="n46-1"><use href="#dL"/></g><g id="n46-2"><use href="#dL" x="52"/></g><g id="n46-3"><use href="#dL" x="104"/></g><g id="n46-4"><use href="#dL" x="156"/></g><g id="n46-5"><use href="#dL" x="208"/></g><g id="n46-6"><use href="#dL" x="260"/></g><g id="n46-7"><use href="#dL" x="312"/></g><g id="n46-8"><use href="#dL" x="364"/></g><g id="n46-9"><use href="#dL" x="416"/></g><g id="n46-10"><use href="#dL" x="468"/></g><g id="n46-11"><use href="#dL" x="520"/></g><g id="n46-12"><use href="#dL" x="572"/></g></g>
<g transform="translate(0,2392)"><path class="ln" d="M-57.5 0h40M589.5 0h40"/><text class="nl" x="-62.5" y="4.3">47</text><text class="nr" x="634.5" y="4.3">47</text><g id="n47-1"><use href="#dR"/></g><g id="n47-2"><use href="#dR" x="52"/></g><g id="n47-3"><use href="#dR" x="104"/></g><g id="n47-4"><use href="#dR" x="156"/></g><g id="n47-5"><use href="#dR" x="208"/></g><g id="n47-6"><use href="#dR" x="260"/></g><g id="n47-7"><use href="#dR" x="312"/></g><g id="n47-8"><use href="#dR" x="364"/></g><g id="n47-9"><use href="#dR" x="416"/></g><g id="n47-10"><use href="#dR" x="468"/></g><g id="n47-11"><use href="#dR" x="520"/></g><g id="n47-12"><use href="#dR" x="572"/></g></g>
<g transform="translate(0,2444)"><path class="ln" d="M589.5 0h40"/><text class="nl" x="-62.5" y="4.3">48</text><text class="nr" x="634.5" y="4.3">48</text><g id="n48-1"><use href="#dL"/></g><g id="n48-2"><use href="#dL" x="52"/></g><g id="n48-3"><use href="#dL" x="104"/></g><g id="n48-4"><use href="#dL" x="156"/></g><g id="n48-5"><use href="#dL" x="208"/></g><g id="n48-6"><use href="#dL" x="260"/></g><g id="n48-7"><use href="#dL" x="312"/></g><g id="n48-8"><use href="#dL" x="364"/></g><g id="n48-9"><use href="#dL" x="416"/></g><g id="n48-10"><use href="#dL" x="468"/></g><g id="n48-11"><use href="#dL" x="520"/></g><g id="n48-12"><use href="#dL" x="572"/></g></g>
<g id="connectors">
<path class="dk" d="M364 416L416 468M260 572L104 624M156 780L208 832M416 936L208 988M208 988L364 1092M312 1092L260 1144M260 1300L312 1352M364 1352L208 1456M208 1456L416 1508M208 1612L156 1664M104 1820L260 1872M416 1976L364 2028"/>
<path class="dg" d="M364 416L416 468M260 572L104 624M156 780L208 832M416 936L208 988M208 988L364 1092M312 1092L260 1144M260 1300L312 1352M364 1352L208 1456M208 1456L416 1508M208 1612L156 1664M104 1820L260 1872M416 1976L364 2028"/>
</g>
<g id="lightnodes">
<g id="n9-8"><use href="#lR" x="364" y="416"/></g>
<g id="n10-9"><use href="#lL" x="416" y="468"/></g>
<g id="n11-9"><use href="#lR" x="416" y="520"/></g>
<g id="n12-6"><use href="#lL" x="260" y="572"/></g>
<g id="n12-9"><use href="#lL" x="416" y="572"/></g>
<g id="n13-3"><use href="#lR" x="104" y="624"/></g>
<g id="n13-6"><use href="#lR" x="260" y="624"/></g>
<g id="n13-10"><use href="#lR" x="468" y="624"/></g>
<g id="n14-4"><use href="#lL" x="156" y="676"/></g>
<g id="n14-7"><use href="#lL" x="312" y="676"/></g>
<g id="n14-10"><use href="#lL" x="468" y="676"/></g>
<g id="n15-4"><use href="#lR" x="156" y="728"/></g>
<g id="n15-7"><use href="#lR" x="312" y="728"/></g>
<g id="n15-10"><use href="#lR" x="468" y="728"/></g>
<g id="n16-4"><use href="#lL" x="156" y="780"/></g>
<g id="n16-7"><use href="#lL" x="312" y="780"/></g>
<g id="n16-10"><use href="#lL" x="468" y="780"/></g>
<g id="n17-5"><use href="#lR" x="208" y="832"/></g>
<g id="n17-7"><use href="#lR" x="312" y="832"/></g>
<g id="n17-9"><use href="#lR" x="416" y="832"/></g>
<g id="n18-5"><use href="#lL" x="208" y="884"/></g>
<g id="n18-7"><use href="#lL" x="312" y="884"/></g>
<g id="n18-9"><use href="#lL" x="416" y="884"/></g>
<g id="n19-5"><use href="#lR" x="208" y="936"/></g>
<g id="n19-7"><use href="#lR" x="312" y="936"/></g>
<g id="n19-9"><use href="#lR" x="416" y="936"/></g>
<g id="n20-5"><use href="#lL" x="208" y="988"/></g>
<g id="n22-7"><use href="#lL" x="312" y="1092"/></g>
<g id="n22-8"><use href="#lL" x="364" y="1092"/></g>
<g id="n23-6"><use href="#lR" x="260" y="1144"/></g>
<g id="n23-7"><use href="#lR" x="312" y="1144"/></g>
<g id="n23-8"><use href="#lR" x="364" y="1144"/></g>
<g id="n23-9"><use href="#lR" x="416" y="1144"/></g>
<g id="n24-5"><use href="#lL" x="208" y="1196"/></g>
<g id="n24-6"><use href="#lL" x="260" y="1196"/></g>
<g id="n24-7"><use href="#lL" x="312" y="1196"/></g>
<g id="n24-8"><use href="#lL" x="364" y="1196"/></g>
<g id="n24-9"><use href="#lL" x="416" y="1196"/></g>
<g id="n25-5"><use href="#lR" x="208" y="1248"/></g>
<g id="n25-6"><use href="#lR" x="260" y="1248"/></g>
<g id="n25-7"><use href="#lR" x="312" y="1248"/></g>
<g id="n25-8"><use href="#lR" x="364" y="1248"/></g>
<g id="n25-9"><use href="#lR" x="416" y="1248"/></g>
<g id="n26-6"><use href="#lL" x="260" y="1300"/></g>
<g id="n26-7"><use href="#lL" x="312" y="1300"/></g>
<g id="n26-8"><use href="#lL" x="364" y="1300"/></g>
<g id="n26-9"><use href="#lL" x="416" y="1300"/></g>
<g id="n27-7"><use href="#lR" x="312" y="1352"/></g>
<g id="n27-8"><use href="#lR" x="364" y="1352"/></g>
<g id="n29-5"><use href="#lR" x="208" y="1456"/></g>
<g id="n30-5"><use href="#lL" x="208" y="1508"/></g>
<g id="n30-7"><use href="#lL" x="312" y="1508"/></g>
<g id="n30-9"><use href="#lL" x="416" y="1508"/></g>
<g id="n31-5"><use href="#lR" x="208" y="1560"/></g>
<g id="n31-7"><use href="#lR" x="312" y="1560"/></g>
<g id="n31-9"><use href="#lR" x="416" y="1560"/></g>
<g id="n32-5"><use href="#lL" x="208" y="1612"/></g>
<g id="n32-7"><use href="#lL" x="312" y="1612"/></g>
<g id="n32-9"><use href="#lL" x="416" y="1612"/></g>
<g id="n33-4"><use href="#lR" x="156" y="1664"/></g>
<g id="n33-7"><use href="#lR" x="312" y="1664"/></g>
<g id="n33-10"><use href="#lR" x="468" y="1664"/></g>
<g id="n34-4"><use href="#lL" x="156" y="1716"/></g>
<g id="n34-7"><use href="#lL" x="312" y="1716"/></g>
<g id="n34-10"><use href="#lL" x="468" y="1716"/></g>
<g id="n35-4"><use href="#lR" x="156" y="1768"/></g>
<g id="n35-7"><use href="#lR" x="312" y="1768"/></g>
<g id="n35-10"><use href="#lR" x="468" y="1768"/></g>
<g id="n36-3"><use href="#lL" x="104" y="1820"/></g>
<g id="n36-6"><use href="#lL" x="260" y="1820"/></g>
<g id="n36-10"><use href="#lL" x="468" y="1820"/></g>
<g id="n37-6"><use href="#lR" x="260" y="1872"/></g>
<g id="n37-9"><use href="#lR" x="416" y="1872"/></g>
<g id="n38-9"><use href="#lL" x="416" y="1924"/></g>
<g id="n39-9"><use href="#lR" x="416" y="1976"/></g>
<g id="n40-8"><use href="#lL" x="364" y="2028"/></g>
</g>
</g>
<text class="wm" x="370" y="1288">BRACELETBOOK.COM</text>
</svg>
